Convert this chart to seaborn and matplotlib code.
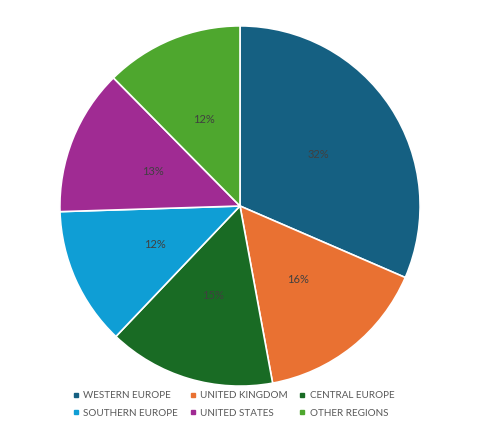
import matplotlib
matplotlib.use('Agg')
import matplotlib.pyplot as plt
from matplotlib.lines import Line2D
import seaborn as sns

regions = ['WESTERN EUROPE', 'UNITED KINGDOM', 'CENTRAL EUROPE',
           'SOUTHERN EUROPE', 'UNITED STATES', 'OTHER REGIONS']
shares = [31.5, 15.6, 15.0, 12.4, 13.1, 12.4]
colors = ['#156082', '#E97132', '#196B24', '#0F9ED5', '#A02B93', '#4EA72E']

sns.set_theme(style='white')
plt.rcParams['font.family'] = ['Lato', 'DejaVu Sans']

fig = plt.figure(figsize=(4.8, 4.41), dpi=100)
ax = fig.add_axes([59 / 480, 54 / 441, 362 / 480, 362 / 441])

pal = sns.color_palette(colors)
wedges, texts, autotexts = ax.pie(
    shares, colors=pal, startangle=90, counterclock=False,
    autopct='%1.0f%%', pctdistance=0.52,
    wedgeprops=dict(edgecolor='white', linewidth=1.2),
    textprops=dict(color='#404040', fontsize=8))
ax.set_xlim(-1.005, 1.005)
ax.set_ylim(-1.005, 1.005)
ax.set_aspect('equal')

# legend is filled column by column, so reorder to get row-major layout
order = [0, 3, 1, 4, 2, 5]
handles = [Line2D([0], [0], marker='s', color='none', markerfacecolor=colors[i],
                  markeredgecolor=colors[i], markersize=3.5) for i in order]
labels = [regions[i] for i in order]
fig.legend(handles, labels, loc='center', bbox_to_anchor=(0.487, 0.083),
           ncol=3, frameon=False, fontsize=7.1, handlelength=0.6,
           handletextpad=0.5, columnspacing=1.15, labelspacing=0.85,
           labelcolor='#595959')

fig.savefig('out.png', dpi=100)
